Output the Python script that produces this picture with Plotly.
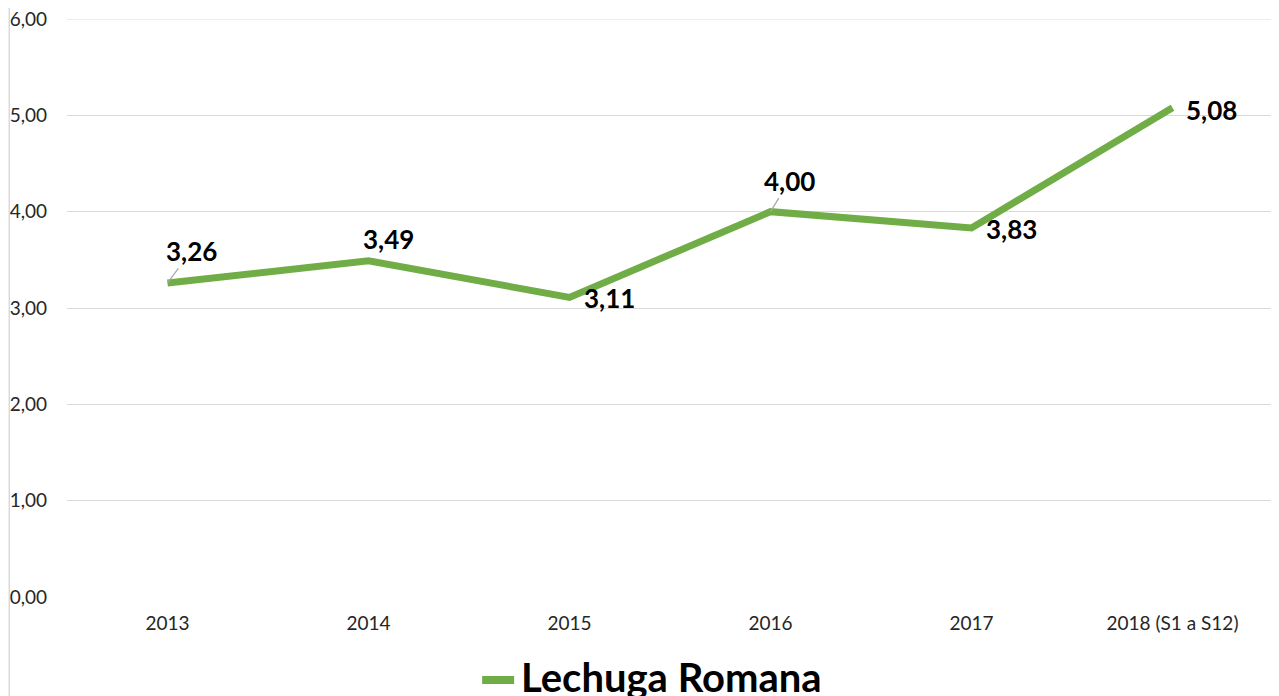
import plotly.graph_objects as go

categories = ["2013", "2014", "2015", "2016", "2017", "2018 (S1 a S12)"]
values = [3.26, 3.49, 3.11, 4.00, 3.83, 5.08]
labels = ["3,26", "3,49", "3,11", "4,00", "3,83", "5,08"]
y_ticks = [0, 1, 2, 3, 4, 5, 6]
y_tick_text = ["0,00", "1,00", "2,00", "3,00", "4,00", "5,00", "6,00"]
series_name = "Lechuga Romana"

# label offsets in pixels (dx, dy), leader flag
label_offsets = [(24, -32, True), (20, -22, False), (40, 1, False),
                 (19, -31, True), (40, 1, False), (39, 2, False)]

GREEN = "#70AD47"
GRID = "#D9D9D9"
FONT = "Lato, Carlito, Calibri, sans-serif"

# figure sits 8px inside the page (browser body margin)
L, R, T, B = 58.5, 13.5, 11, 107
PW = 1279 - L - R
PH = 696 - T - B
PB = 696 - B  # plot bottom in figure px

fig = go.Figure()
fig.add_trace(go.Scatter(
    x=list(range(len(categories))), y=values, mode="lines", name=series_name,
    line=dict(color=GREEN, width=7), showlegend=False,
))

for i, (v, lab, (dx, dy, leader)) in enumerate(zip(values, labels, label_offsets)):
    if leader:
        fig.add_annotation(x=i, y=v, xref="x", yref="y", text=f"<b>{lab}</b>",
                           showarrow=True, arrowhead=0, arrowwidth=1.2,
                           arrowcolor="#A6A6A6", ax=dx, ay=dy, standoff=0,
                           font=dict(family=FONT, size=26, color="black"))
    else:
        fig.add_annotation(x=i, y=v, xref="x", yref="y", text=f"<b>{lab}</b>",
                           showarrow=False, xshift=dx, yshift=-dy,
                           font=dict(family=FONT, size=26, color="black"))

# top gridline (plotly skips the gridline lying on the plot edge)
fig.add_shape(type="line", xref="paper", yref="y", x0=0, x1=1,
              y0=y_ticks[-1], y1=y_ticks[-1], layer="below",
              line=dict(color=GRID, width=1))

# chart frame left border
fx = (0.75 - L) / PW
fig.add_shape(type="line", xref="paper", yref="paper",
              x0=fx, x1=fx, y0=-B / PH, y1=1 + T / PH,
              line=dict(color=GRID, width=1.5))

# legend (drawn manually, partially clipped at the bottom like the reference)
fig.add_shape(type="line", xref="paper", yref="paper",
              x0=(474 - L) / PW, x1=(506 - L) / PW,
              y0=(PB - 672) / PH, y1=(PB - 672) / PH,
              line=dict(color=GREEN, width=8))
fig.add_annotation(xref="paper", yref="paper", x=(511 - L) / PW, y=(PB - 669) / PH,
                   xanchor="left", yanchor="middle", showarrow=False,
                   text=f"<b>{series_name}</b>",
                   font=dict(family=FONT, size=40, color="black"))

fig.update_layout(
    width=1279, height=696,
    margin=dict(l=L, r=R, t=T, b=B),
    paper_bgcolor="white", plot_bgcolor="white",
    font=dict(family=FONT, size=19, color="#262626"),
    showlegend=False,
    xaxis=dict(range=[-0.5, len(categories) - 0.5], tickvals=list(range(len(categories))),
               ticktext=categories, showgrid=False, showline=False, zeroline=False,
               ticks="", ticklabelstandoff=13, automargin=False,
               tickfont=dict(family=FONT, size=19, color="#262626")),
    yaxis=dict(range=[0, 6], tickvals=y_ticks, ticktext=y_tick_text,
               showgrid=True, gridcolor=GRID, gridwidth=1,
               zeroline=False, showline=False, ticks="", automargin=False,
               ticklabelstandoff=19, ticklabeloverflow="allow",
               tickfont=dict(family=FONT, size=19, color="#262626")),
)

fig.write_html("out.html")
